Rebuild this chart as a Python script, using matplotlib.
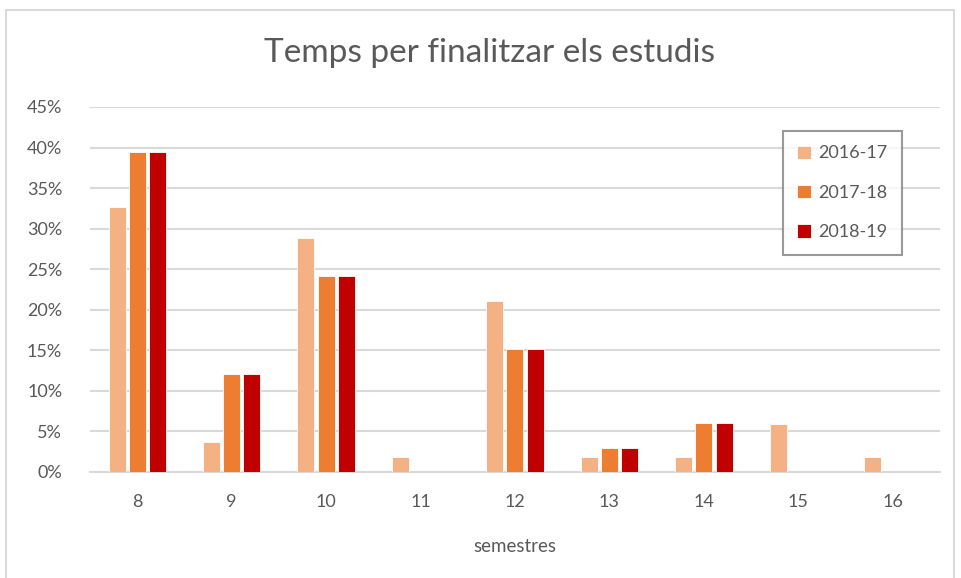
import numpy as np
import matplotlib.pyplot as plt
from matplotlib.patches import Rectangle

# data (share of students, %)
semesters = ["8", "9", "10", "11", "12", "13", "14", "15", "16"]
years = ["2016-17", "2017-18", "2018-19"]
pct_2016 = [32.7, 3.7, 28.8, 1.8, 21.1, 1.8, 1.8, 5.9, 1.8]
pct_2017 = [39.4, 12.1, 24.2, 0.0, 15.2, 3.0, 6.1, 0.0, 0.0]
pct_2018 = [39.4, 12.1, 24.2, 0.0, 15.2, 3.0, 6.1, 0.0, 0.0]
colors = ["#F4B183", "#ED7D31", "#C00000"]

text_col = "#595959"
grid_col = "#D9D9D9"
plt.rcParams["font.family"] = ["Lato", "DejaVu Sans"]

fig = plt.figure(figsize=(9.62, 5.78), dpi=100)
# light outer chart border
fig.patches.append(Rectangle((6 / 962, -0.01), 948 / 962, 1 - 10 / 578 + 0.01,
                             transform=fig.transFigure, fill=False,
                             edgecolor=grid_col, linewidth=1.5))

ax = fig.add_axes([90 / 962, 1 - 472 / 578, 850 / 962, 365 / 578])

x = np.arange(len(semesters))
width = 0.18
step = 0.213
for i, (vals, lab, col) in enumerate(zip([pct_2016, pct_2017, pct_2018], years, colors)):
    ax.bar(x + (i - 1) * step, vals, width, color=col, label=lab,
           edgecolor="white", linewidth=0.6, zorder=3)

ax.set_xlim(-0.5, len(semesters) - 0.5)
ax.set_ylim(0, 45)
ax.set_yticks(np.arange(0, 46, 5))
ax.set_yticklabels([f"{v}%" for v in range(0, 46, 5)])
ax.set_xticks(x)
ax.set_xticklabels(semesters)
ax.grid(axis="y", color=grid_col, linewidth=1.5, zorder=0)
ax.tick_params(axis="both", length=0, labelsize=13, colors=text_col)
ax.tick_params(axis="x", pad=16)
ax.tick_params(axis="y", pad=20)
for s in ["top", "right", "left"]:
    ax.spines[s].set_visible(False)
ax.spines["bottom"].set_color(grid_col)
ax.spines["bottom"].set_linewidth(1.5)

ax.set_xlabel("semestres", fontsize=13.5, color=text_col, labelpad=20)
fig.text(490 / 962, 1 - 53 / 578, "Temps per finalitzar els estudis",
         ha="center", va="center", fontsize=24, color=text_col)

leg = ax.legend(loc="upper left", bbox_to_anchor=(783 / 962, 1 - 131 / 578),
                bbox_transform=fig.transFigure, frameon=True, fancybox=False,
                fontsize=13, labelspacing=1.3, handlelength=0.75,
                handleheight=0.75, handletextpad=0.4, borderpad=0.8,
                borderaxespad=0)
leg.get_frame().set_edgecolor("#808080")
leg.get_frame().set_linewidth(1.5)
for t in leg.get_texts():
    t.set_color(text_col)

fig.savefig("out.png", dpi=100)
